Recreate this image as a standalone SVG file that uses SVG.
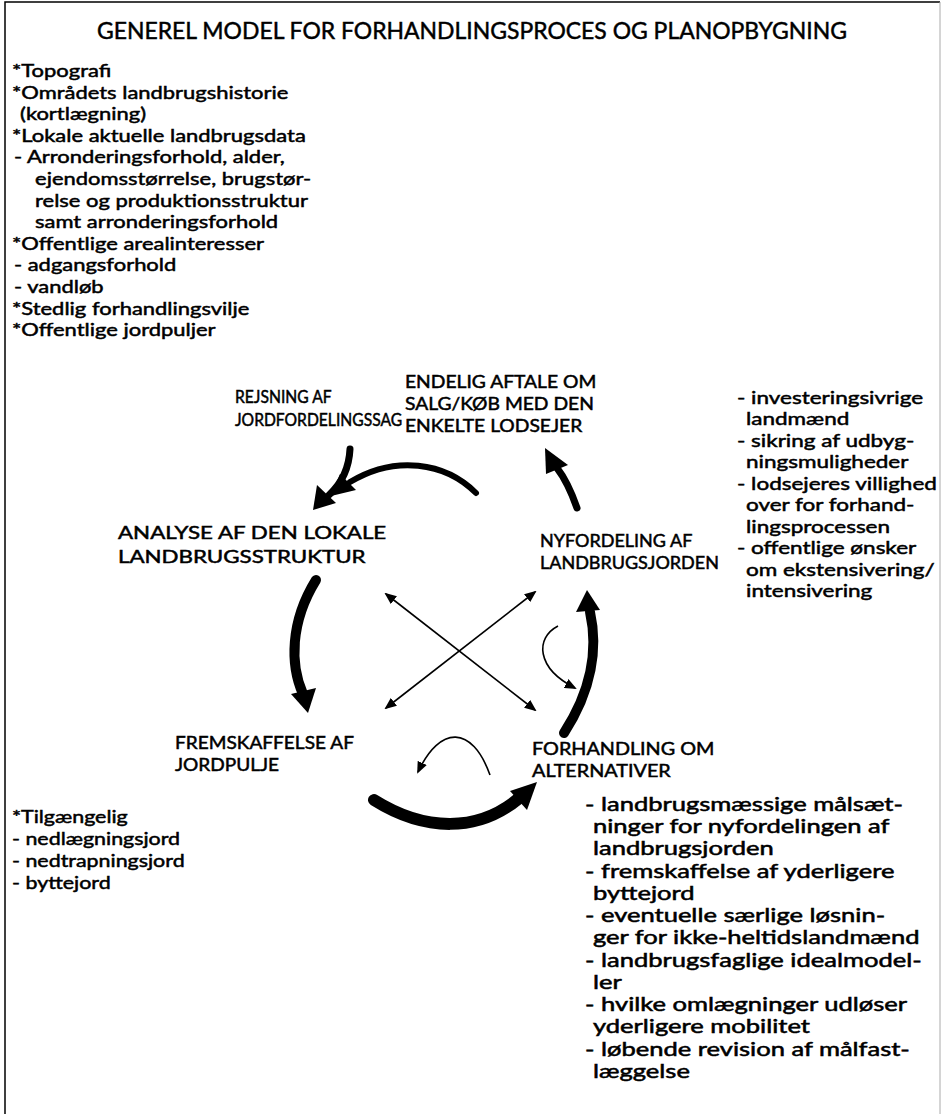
<svg xmlns="http://www.w3.org/2000/svg" width="942" height="1114" viewBox="0 0 942 1114">
<style>
text{font-family:Lato,"Open Sans","Liberation Sans",sans-serif;fill:#000;stroke:#000;stroke-width:0.5}
.t{font-size:24px}
.b{font-size:18px}
.d{font-size:18.5px}
.l{font-size:18px}
.thick{fill:none;stroke:#000;stroke-linecap:round}
.thin{fill:none;stroke:#000;stroke-width:1.6}
</style>
<defs>
<marker id="ah" markerWidth="12" markerHeight="10" refX="10" refY="5" orient="auto-start-reverse" markerUnits="userSpaceOnUse">
<path d="M0,0 L12,5 L0,10 Z" fill="#000"/>
</marker>
</defs>
<rect width="942" height="1114" fill="#fff"/>
<path d="M5,1114 V2 H940" fill="none" stroke="#000" stroke-width="1.5"/>
<path d="M940,2 V1114" fill="none" stroke="#aaa" stroke-width="1"/>
<text class="t" x="472" y="39" text-anchor="middle" textLength="750" lengthAdjust="spacingAndGlyphs">GENEREL MODEL FOR FORHANDLINGSPROCES OG PLANOPBYGNING</text>
<g id="inputs" transform="matrix(1.22,0,0,1,-2.64,0)">
<text class="b" x="12" y="77">*Topografi</text>
<text class="b" x="12" y="98.6">*Områdets landbrugshistorie</text>
<text class="b" x="18.6" y="120.2">(kortlægning)</text>
<text class="b" x="12" y="141.8">*Lokale aktuelle landbrugsdata</text>
<text class="b" x="13.6" y="163.4">- Arronderingsforhold, alder,</text>
<text class="b" x="30.9" y="185">ejendomsstørrelse, brugstør-</text>
<text class="b" x="30.9" y="206.6">relse og produktionsstruktur</text>
<text class="b" x="30.9" y="228.2">samt arronderingsforhold</text>
<text class="b" x="12" y="249.8">*Offentlige arealinteresser</text>
<text class="b" x="13.6" y="271.4">- adgangsforhold</text>
<text class="b" x="13.6" y="293">- vandløb</text>
<text class="b" x="12" y="314.6">*Stedlig forhandlingsvilje</text>
<text class="b" x="12" y="336.2">*Offentlige jordpuljer</text>
</g>
<g id="rejsning" transform="matrix(0.87,0,0,1,30.55,0)">
<text class="l" x="235" y="403">REJSNING AF</text>
<text class="l" x="235" y="426">JORDFORDELINGSSAG</text>
</g>
<g id="endelig" transform="matrix(1.07,0,0,1,-28.35,0)">
<text class="l" x="405" y="388">ENDELIG AFTALE OM</text>
<text class="l" x="405" y="410">SALG/KØB MED DEN</text>
<text class="l" x="405" y="432">ENKELTE LODSEJER</text>
</g>
<g id="conditions" transform="matrix(1.25,0,0,1,-184.25,0)">
<text class="b" x="737" y="404">- investeringsivrige</text>
<text class="b" x="744.2" y="425.5">landmænd</text>
<text class="b" x="737" y="447">- sikring af udbyg-</text>
<text class="b" x="744.2" y="468.5">ningsmuligheder</text>
<text class="b" x="737" y="490">- lodsejeres villighed</text>
<text class="b" x="744.2" y="511.5">over for forhand-</text>
<text class="b" x="744.2" y="533">lingsprocessen</text>
<text class="b" x="737" y="554.5">- offentlige ønsker</text>
<text class="b" x="744.2" y="576">om ekstensivering/</text>
<text class="b" x="744.2" y="597.5">intensivering</text>
</g>
<g id="analyse" transform="matrix(1.24,0,0,1,-28.32,0)">
<text class="l" x="118" y="539">ANALYSE AF DEN LOKALE</text>
<text class="l" x="118" y="563">LANDBRUGSSTRUKTUR</text>
</g>
<g id="nyfordeling">
<text class="l" x="540" y="547">NYFORDELING AF</text>
<text class="l" x="540" y="569">LANDBRUGSJORDEN</text>
</g>
<g id="fremskaffelse" transform="matrix(1.06,0,0,1,-10.5,0)">
<text class="l" x="175" y="749">FREMSKAFFELSE AF</text>
<text class="l" x="175" y="771">JORDPULJE</text>
</g>
<g id="forhandling" transform="matrix(1.1,0,0,1,-53.2,0)">
<text class="l" x="532" y="755">FORHANDLING OM</text>
<text class="l" x="532" y="777">ALTERNATIVER</text>
</g>
<g id="pulje" transform="matrix(1.19,0,0,1,-2.28,0)">
<text class="b" x="12" y="823">*Tilgængelig</text>
<text class="b" x="12" y="845">- nedlægningsjord</text>
<text class="b" x="12" y="867">- nedtrapningsjord</text>
<text class="b" x="12" y="889">- byttejord</text>
</g>
<g id="alternativer" transform="matrix(1.38,0,0,1,-222.3,0)">
<text class="d" x="585" y="811">- landbrugsmæssige målsæt-</text>
<text class="d" x="590.8" y="833.25">ninger for nyfordelingen af</text>
<text class="d" x="590.8" y="855.5">landbrugsjorden</text>
<text class="d" x="585" y="877.75">- fremskaffelse af yderligere</text>
<text class="d" x="590.8" y="900">byttejord</text>
<text class="d" x="585" y="922.25">- eventuelle særlige løsnin-</text>
<text class="d" x="590.8" y="944.5">ger for ikke-heltidslandmænd</text>
<text class="d" x="585" y="966.75">- landbrugsfaglige idealmodel-</text>
<text class="d" x="590.8" y="989">ler</text>
<text class="d" x="585" y="1011.25">- hvilke omlægninger udløser</text>
<text class="d" x="590.8" y="1033.5">yderligere mobilitet</text>
<text class="d" x="585" y="1055.75">- løbende revision af målfast-</text>
<text class="d" x="590.8" y="1078">læggelse</text>
</g>
<g id="connectors">
<path class="thick" stroke-width="7" d="M350,449 C349,470 341,484 329,495"/>
<polygon points="313,510 317,485 336,503"/>
<path class="thick" stroke-width="6" d="M476,493 C445,462 395,455 350,482"/>
<polygon points="331,496 340,474 356,490"/>
<path class="thick" stroke-width="7" d="M577,508 C570,488 564,477 557,468"/>
<polygon points="545,448 546,474 568,465"/>
<path class="thick" stroke-width="10" d="M316,580 C290,622 290,665 303,694"/>
<polygon points="308,713 291,694 316,688"/>
<path class="thick" stroke-width="12" d="M374,800 C425,832 478,832 518,799"/>
<polygon points="537,782 527,810 510,791"/>
<path class="thick" stroke-width="10" d="M564,733 C592,690 598,648 590,612"/>
<polygon points="587,590 576,612 600,610"/>
<line class="thin" x1="386" y1="594" x2="535" y2="710" marker-start="url(#ah)" marker-end="url(#ah)"/>
<line class="thin" x1="535" y1="592" x2="386" y2="708" marker-start="url(#ah)" marker-end="url(#ah)"/>
<path class="thin" d="M558,626 C535,638 536,668 575,688" marker-end="url(#ah)"/>
<path class="thin" d="M490,775 C472,725 440,725 418,772" marker-end="url(#ah)"/>
</g>
</svg>
